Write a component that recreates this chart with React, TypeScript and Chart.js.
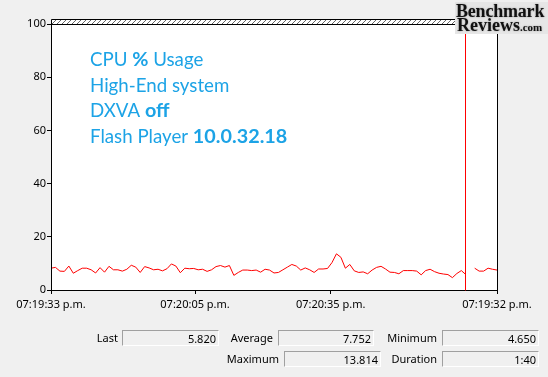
import React, { useEffect, useRef } from "react";
import { Chart, registerables } from "chart.js";

Chart.register(...registerables);

// CPU % usage samples (one per second, wrapped display; null = gap after current sample)
const cpuUsage: (number | null)[] = [
  8.2, 8.5, 7.1, 7.0, 9.0, 6.3, 7.3, 8.2, 8.2, 7.6,
  6.4, 8.4, 6.7, 8.9, 7.6, 7.6, 7.1, 7.8, 9.3, 8.6,
  6.6, 8.8, 8.3, 7.6, 7.8, 7.2, 8.0, 9.8, 9.0, 6.5,
  8.2, 8.0, 8.1, 7.6, 7.8, 7.0, 7.6, 8.8, 9.2, 8.6,
  9.2, 5.5, 6.6, 7.5, 7.5, 7.3, 7.5, 6.7, 7.8, 7.5,
  6.4, 6.6, 7.6, 8.6, 9.6, 9.0, 7.5, 8.3, 7.6, 6.6,
  7.9, 7.9, 8.1, 10.3, 13.6, 12.3, 8.2, 9.6, 7.2, 6.6,
  6.8, 6.1, 7.5, 8.5, 8.9, 7.9, 6.7, 6.6, 6.1, 7.3,
  7.3, 7.3, 7.1, 5.7, 7.3, 7.8, 6.9, 6.3, 6.0, 5.8,
  4.65, 6.2, 7.3, 5.82, null, 8.2, 7.1, 7.1, 8.2, 7.8, 7.5,
];
const currentSample = 93;

const xTickPositions = [0, 32.3, 62.7, 100];
const xTickLabels = ["07:19:33 p.m.", "07:20:05 p.m.", "07:20:35 p.m.", "07:19:32 p.m."];
const yTickStep = 20;

const annotationLines: [string, boolean][][] = [
  [["CPU ", false], ["%", true], [" Usage", false]],
  [["High-End system", false]],
  [["DXVA ", false], ["off", true]],
  [["Flash Player ", false], ["10.0.32.18", true]],
];
const annotationColor = "#1ca3e6";

const statsRow1: [string, string][] = [
  ["Last", "5.820"],
  ["Average", "7.752"],
  ["Minimum", "4.650"],
];
const statsRow2: [string, string][] = [
  ["Maximum", "13.814"],
  ["Duration", "1:40"],
];

const UI_FONT = "'Noto Sans', sans-serif";

const framePlugin = {
  id: "frame",
  beforeDraw(chart: any) {
    const { ctx, chartArea } = chart;
    ctx.save();
    ctx.fillStyle = "#ffffff";
    ctx.fillRect(chartArea.left, chartArea.top - 5, chartArea.right - chartArea.left, chartArea.bottom - chartArea.top + 5);
    ctx.restore();
  },
  afterDraw(chart: any) {
    const { ctx, chartArea, scales } = chart;
    const L = Math.round(chartArea.left) + 0.5;
    const R = Math.round(chartArea.right) + 0.5;
    const T = Math.round(chartArea.top) + 0.5;
    const B = Math.round(chartArea.bottom) + 0.5;
    const bandTop = T - 5;
    ctx.save();
    ctx.save();
    ctx.beginPath();
    ctx.rect(L, bandTop, R - L, T - bandTop);
    ctx.clip();
    ctx.strokeStyle = "#666";
    ctx.lineWidth = 1;
    ctx.beginPath();
    for (let x = L - 10; x < R + 10; x += 5) {
      ctx.moveTo(x, T);
      ctx.lineTo(x + 5, bandTop);
    }
    ctx.stroke();
    ctx.restore();
    ctx.strokeStyle = "#000";
    ctx.lineWidth = 1;
    ctx.beginPath();
    ctx.moveTo(L, bandTop);
    ctx.lineTo(R, bandTop);
    ctx.moveTo(L, T);
    ctx.lineTo(R, T);
    ctx.moveTo(L, bandTop);
    ctx.lineTo(L, B);
    ctx.moveTo(R, bandTop);
    ctx.lineTo(R, B);
    ctx.stroke();
    const cx = Math.round(scales.x.getPixelForValue(currentSample)) - 0.5;
    ctx.strokeStyle = "#ff0000";
    ctx.beginPath();
    ctx.moveTo(cx, T + 0.5);
    ctx.lineTo(cx, B);
    ctx.stroke();
    ctx.restore();
  },
};

const annotationPlugin = {
  id: "annot",
  afterDatasetsDraw(chart: any) {
    const { ctx, chartArea } = chart;
    ctx.save();
    ctx.fillStyle = annotationColor;
    ctx.textBaseline = "alphabetic";
    let y = chartArea.top + 41.7;
    for (const line of annotationLines) {
      let x = chartArea.left + 39;
      for (const [text, bold] of line) {
        ctx.font = bold ? "bold 19.8px Lato" : "18.7px Lato";
        ctx.fillText(text, x, y);
        x += ctx.measureText(text).width;
      }
      y += 25.8;
    }
    ctx.restore();
  },
};

function StatBox({ label, value, labelRight, boxLeft, boxWidth, top }: any) {
  return (
    <>
      <div
        style={{
          position: "absolute",
          left: labelRight - 100,
          width: 100,
          top,
          height: 16,
          lineHeight: "16px",
          textAlign: "right",
          font: `11px ${UI_FONT}`,
          color: "#000",
        }}
      >
        {label}
      </div>
      <div
        style={{
          position: "absolute",
          left: boxLeft,
          top,
          width: boxWidth,
          height: 16,
          boxSizing: "border-box",
          borderTop: "1px solid #a0a0a0",
          borderLeft: "1px solid #a0a0a0",
          borderRight: "1px solid #ffffff",
          borderBottom: "1px solid #ffffff",
          background: "#f0f0f0",
          textAlign: "right",
          paddingRight: 2,
          lineHeight: "14px",
          font: `11px ${UI_FONT}`,
          color: "#000",
        }}
      >
        {value}
      </div>
    </>
  );
}

export default function App() {
  const canvasRef = useRef<HTMLCanvasElement | null>(null);

  useEffect(() => {
    document.body.style.margin = "0";
    const canvas = canvasRef.current!;
    const data = cpuUsage.map((v, i) => ({ x: i, y: v }));
    const chart = new Chart(canvas, {
      type: "line",
      data: {
        datasets: [
          {
            data: data as any,
            borderColor: "#ff0000",
            borderWidth: 1,
            pointRadius: 0,
            tension: 0,
            spanGaps: false,
            fill: false,
          },
        ],
      },
      options: {
        animation: false,
        responsive: false,
        devicePixelRatio: 1,
        layout: { padding: { top: 24, right: 51, left: 0, bottom: 0 } },
        plugins: { legend: { display: false }, tooltip: { enabled: false } },
        scales: {
          x: {
            type: "linear",
            min: 0,
            max: 100,
            afterBuildTicks: (scale: any) => {
              scale.ticks = xTickPositions.map((v) => ({ value: v }));
            },
            afterFit: (scale: any) => {
              scale.height = 87;
            },
            ticks: {
              autoSkip: false,
              maxRotation: 0,
              color: "#000",
              padding: 4,
              font: { family: "'Noto Sans'", size: 11 },
              callback: (v: any) => {
                const i = xTickPositions.indexOf(Number(v));
                return i >= 0 ? xTickLabels[i] : "";
              },
            },
            grid: { drawOnChartArea: false, tickLength: 4, color: "#000" },
            border: { color: "#000", width: 1 },
          },
          y: {
            min: 0,
            max: 100,
            afterFit: (scale: any) => {
              scale.width = 51;
            },
            ticks: {
              stepSize: yTickStep,
              color: "#000",
              padding: 1,
              font: { family: "'Noto Sans'", size: 11 },
            },
            grid: { drawOnChartArea: false, tickLength: 4, color: "#000" },
            border: { color: "#000", width: 1 },
          },
        },
      },
      plugins: [framePlugin, annotationPlugin],
    });
    return () => chart.destroy();
  }, []);

  return (
    <div
      style={{
        position: "fixed",
        left: 0,
        top: 0,
        width: 548,
        height: 377,
        background: "#f0f0f0",
        overflow: "hidden",
      }}
    >
      <canvas ref={canvasRef} width={548} height={377} style={{ position: "absolute", left: 0, top: 0, width: 548, height: 377 }} />
      <div
        style={{
          position: "absolute",
          left: 455,
          top: 2,
          width: 93,
          height: 32,
          background: "#e6e6e6",
          fontFamily: "'Liberation Serif', serif",
          fontWeight: "bold",
          color: "#111",
          textShadow: "0 0 2px #999",
        }}
      >
        <div style={{ position: "absolute", left: 1, top: -1, fontSize: 18, lineHeight: "20px", letterSpacing: -0.2 }}>Benchmark</div>
        <div style={{ position: "absolute", left: 2, top: 13, fontSize: 18, lineHeight: "20px", whiteSpace: "nowrap" }}>
          Reviews<span style={{ fontSize: 11 }}>.com</span>
        </div>
      </div>
      <StatBox label={statsRow1[0][0]} value={statsRow1[0][1]} labelRight={118} boxLeft={122} boxWidth={97} top={330} />
      <StatBox label={statsRow1[1][0]} value={statsRow1[1][1]} labelRight={273} boxLeft={278} boxWidth={96} top={330} />
      <StatBox label={statsRow1[2][0]} value={statsRow1[2][1]} labelRight={437} boxLeft={442} boxWidth={97} top={330} />
      <StatBox label={statsRow2[0][0]} value={statsRow2[0][1]} labelRight={279} boxLeft={284} boxWidth={97} top={351} />
      <StatBox label={statsRow2[1][0]} value={statsRow2[1][1]} labelRight={437} boxLeft={442} boxWidth={97} top={351} />
    </div>
  );
}
